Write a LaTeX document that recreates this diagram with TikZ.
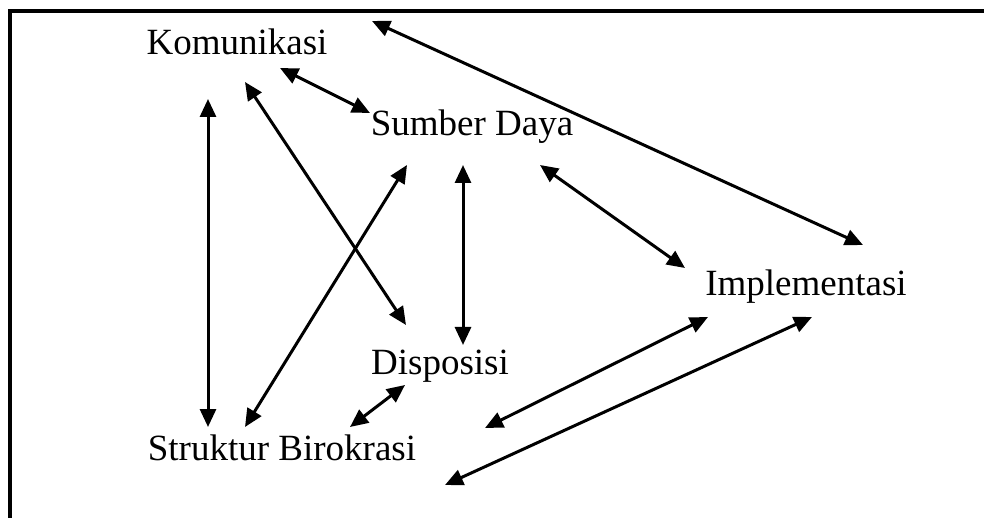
\documentclass[tikz,border=0pt]{standalone}
\usepackage{fontspec}
\setmainfont{Liberation Serif}
\usetikzlibrary{arrows.meta}
\begin{document}
\begin{tikzpicture}[x=1bp,y=-1bp,
  lbl/.style={inner sep=0pt,anchor=base,font=\fontsize{37bp}{44bp}\selectfont},
  arr/.style={line width=3bp,{Triangle[length=18bp,width=16bp]}-{Triangle[length=18bp,width=16bp]}},
  frame/.style={line width=3.2bp}]
\useasboundingbox (0,0) rectangle (984,518);
\draw[frame] (10,530) -- (10,11) -- (995,11);
\node[lbl] (K) at (237,55) {Komunikasi};
\node[lbl] (S) at (472,136) {Sumber Daya};
\node[lbl] (I) at (806,296) {Implementasi};
\node[lbl] (D) at (440,375) {Disposisi};
\node[lbl] (B) at (282,460) {Struktur Birokrasi};
\coordinate (f1) at (485,428);
\coordinate (f2) at (445,485);
\draw[arr] ([shift={(43,13)}]K.base) -- ([shift={(-102,-23)}]S.base);
\draw[arr] ([shift={(135,-34)}]K.base) -- ([shift={(57,-51)}]I.base);
\draw[arr] ([shift={(-29,44)}]K.base) -- ([shift={(-74,-33)}]B.base);
\draw[arr] ([shift={(8,27)}]K.base) -- ([shift={(-34,-50)}]D.base);
\draw[arr] ([shift={(-65,29)}]S.base) -- ([shift={(-37,-33)}]B.base);
\draw[arr] ([shift={(-9,29)}]S.base) -- ([shift={(23,-30)}]D.base);
\draw[arr] ([shift={(68,29)}]S.base) -- ([shift={(-121,-28)}]I.base);
\draw[arr] ([shift={(-35,10)}]D.base) -- ([shift={(68,-33)}]B.base);
\draw[arr] ([shift={(-98,21)}]I.base) -- (f1);
\draw[arr] ([shift={(6,21)}]I.base) -- (f2);
\end{tikzpicture}
\end{document}
